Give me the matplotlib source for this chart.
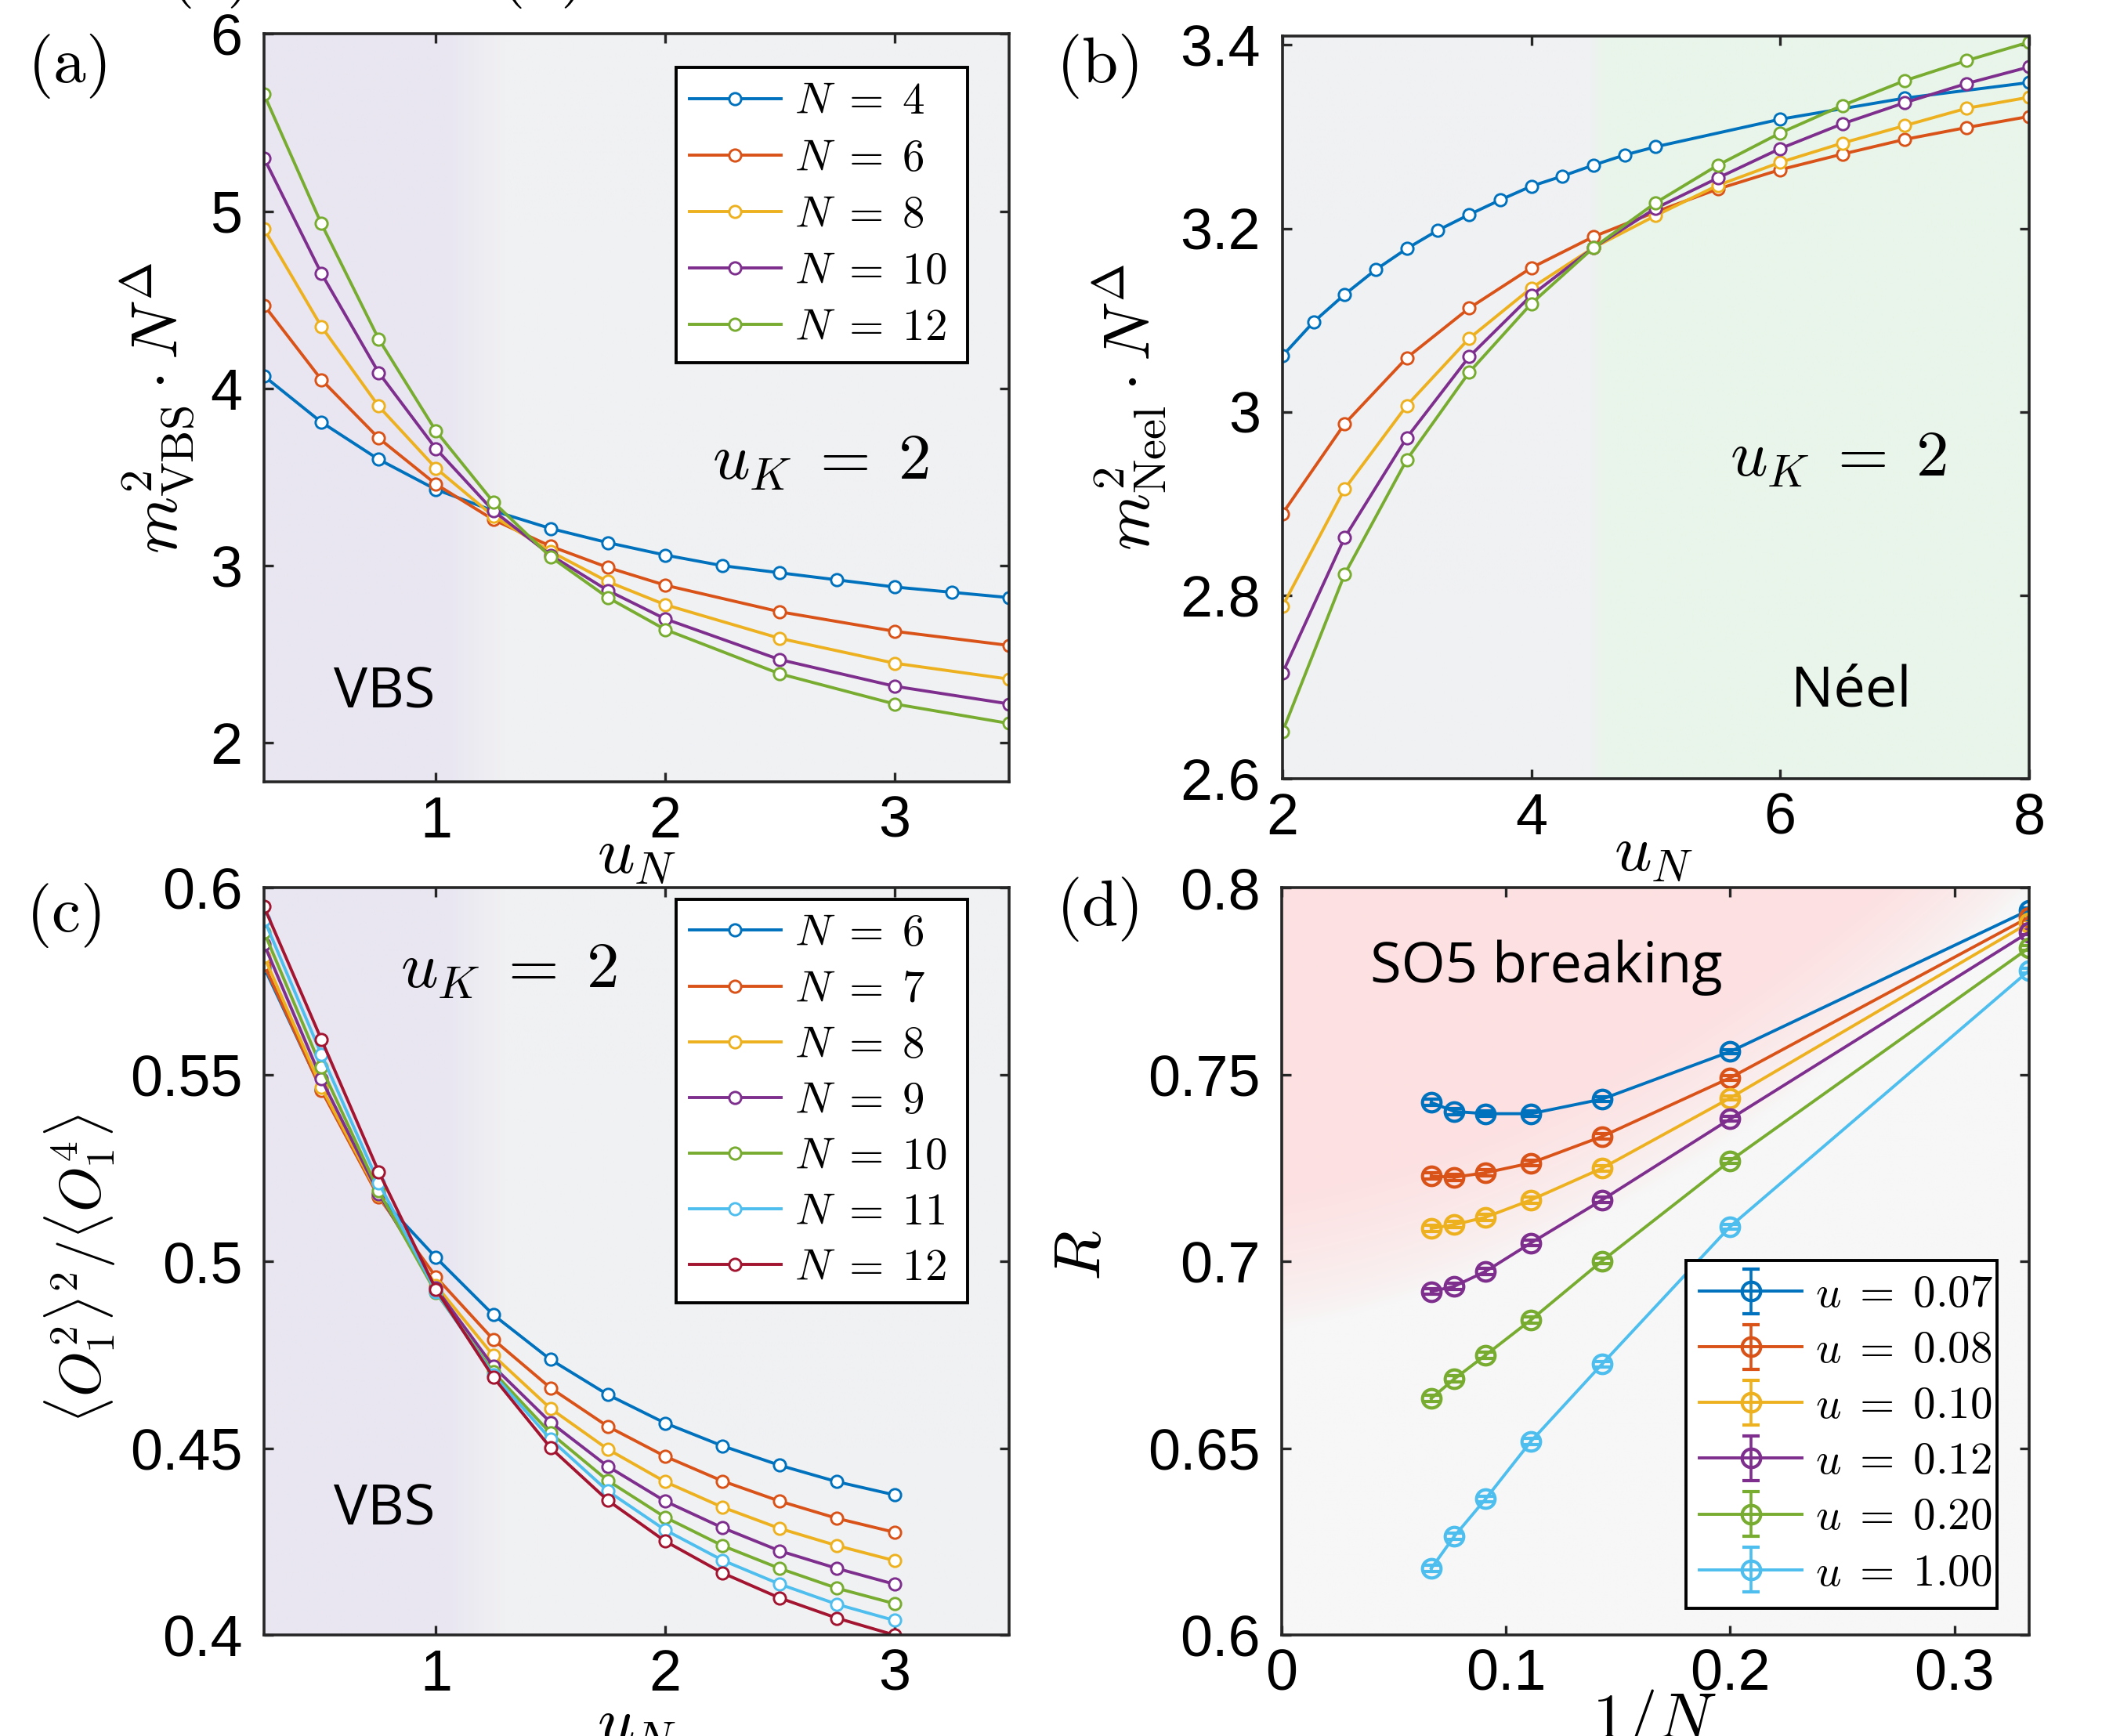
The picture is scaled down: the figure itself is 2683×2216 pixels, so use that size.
import numpy as np
import matplotlib
matplotlib.use("Agg")
import matplotlib.pyplot as plt

plt.rcParams['mathtext.fontset'] = 'cm'
plt.rcParams['font.family'] = ['Liberation Sans', 'DejaVu Sans']

C = ['#0072BD', '#D95319', '#EDB120', '#7E2F8E', '#77AC30', '#4DBEEE', '#A2142F']

# ---------------- panel (a) ----------------
a_x = [0.25, 0.5, 0.75, 1.0, 1.25, 1.5, 1.75, 2.0, 2.25, 2.5, 2.75, 3.0, 3.25, 3.5]
a_x_sparse = [0.25, 0.5, 0.75, 1.0, 1.25, 1.5, 1.75, 2.0, 2.5, 3.0, 3.5]
a_N = [4, 6, 8, 10, 12]
a_N4 = [4.07, 3.81, 3.60, 3.43, 3.31, 3.21, 3.13, 3.06, 3.00, 2.96, 2.92, 2.88, 2.85, 2.82]
a_N6 = [4.47, 4.05, 3.72, 3.46, 3.26, 3.11, 2.99, 2.89, 2.74, 2.63, 2.55]
a_N8 = [4.90, 4.35, 3.90, 3.55, 3.28, 3.08, 2.91, 2.78, 2.59, 2.45, 2.36]
a_N10 = [5.30, 4.65, 4.09, 3.66, 3.31, 3.06, 2.86, 2.70, 2.47, 2.32, 2.22]
a_N12 = [5.66, 4.93, 4.28, 3.76, 3.36, 3.05, 2.82, 2.64, 2.39, 2.22, 2.11]

# ---------------- panel (b) ----------------
b_x4 = [2.0, 2.25, 2.5, 2.75, 3.0, 3.25, 3.5, 3.75, 4.0, 4.25, 4.5, 4.75, 5.0, 6.0, 7.0, 8.0]
b_x = [2.0, 2.5, 3.0, 3.5, 4.0, 4.5, 5.0, 5.5, 6.0, 6.5, 7.0, 7.5, 8.0]
b_N4 = [3.061, 3.098, 3.128, 3.155, 3.178, 3.198, 3.215, 3.231, 3.246, 3.257, 3.269,
        3.280, 3.289, 3.319, 3.342, 3.359]
b_N6 = [2.889, 2.987, 3.059, 3.113, 3.157, 3.191, 3.218, 3.243, 3.264, 3.281, 3.297, 3.310, 3.322]
b_N8 = [2.788, 2.916, 3.007, 3.080, 3.135, 3.179, 3.214, 3.247, 3.272, 3.293, 3.312, 3.331, 3.343]
b_N10 = [2.715, 2.863, 2.972, 3.060, 3.127, 3.179, 3.222, 3.255, 3.287, 3.314, 3.337, 3.358, 3.376]
b_N12 = [2.651, 2.823, 2.948, 3.043, 3.118, 3.179, 3.228, 3.269, 3.304, 3.334, 3.361, 3.383, 3.403]

# ---------------- panel (c) ----------------
c_x = [0.25, 0.5, 0.75, 1.0, 1.25, 1.5, 1.75, 2.0, 2.25, 2.5, 2.75, 3.0]
c_N = [6, 7, 8, 9, 10, 11, 12]
c_N6 = [0.5787, 0.5460, 0.5175, 0.5010, 0.4857, 0.4737, 0.4643, 0.4567, 0.4506, 0.4454, 0.4410, 0.4375]
c_N7 = [0.5794, 0.5458, 0.5172, 0.4958, 0.4791, 0.4661, 0.4558, 0.4478, 0.4412, 0.4358, 0.4312, 0.4275]
c_N8 = [0.5816, 0.5466, 0.5178, 0.4936, 0.4748, 0.4606, 0.4497, 0.4410, 0.4342, 0.4285, 0.4239, 0.4199]
c_N9 = [0.5849, 0.5488, 0.5181, 0.4928, 0.4719, 0.4569, 0.4451, 0.4358, 0.4287, 0.4225, 0.4178, 0.4136]
c_N10 = [0.5881, 0.5519, 0.5188, 0.4916, 0.4704, 0.4540, 0.4413, 0.4315, 0.4239, 0.4178, 0.4125, 0.4084]
c_N11 = [0.5915, 0.5554, 0.5210, 0.4919, 0.4697, 0.4524, 0.4385, 0.4281, 0.4200, 0.4136, 0.4082, 0.4039]
c_N12 = [0.5949, 0.5594, 0.5240, 0.4925, 0.4690, 0.4501, 0.4360, 0.4251, 0.4166, 0.4099, 0.4045, 0.4000]

# ---------------- panel (d) ----------------
d_N = [15, 13, 11, 9, 7, 5, 3]
d_u = ['0.07', '0.08', '0.10', '0.12', '0.20', '1.00']
d_u007 = [0.7425, 0.7401, 0.7395, 0.7395, 0.7434, 0.7561, 0.7940]
d_u008 = [0.7228, 0.7225, 0.7237, 0.7263, 0.7334, 0.7491, 0.7921]
d_u010 = [0.7088, 0.7098, 0.7118, 0.7164, 0.7249, 0.7437, 0.7906]
d_u012 = [0.6919, 0.6933, 0.6973, 0.7049, 0.7164, 0.7381, 0.7881]
d_u020 = [0.6633, 0.6685, 0.6749, 0.6843, 0.7001, 0.7269, 0.7839]
d_u100 = [0.6178, 0.6264, 0.6364, 0.6518, 0.6725, 0.7093, 0.7778]
d_err = [0.0008, 0.0008, 0.0008, 0.0008, 0.0007, 0.0006, 0.0006]

TICK_FS = 53
LAB_FS = 60
LEG_FS = 41
SPINE = '#262626'
LW = 2.8

fig = plt.figure(figsize=(26.83, 22.16), dpi=100)
axA = fig.add_axes([0.1256, 0.5496, 0.3544, 0.4308])
axB = fig.add_axes([0.6101, 0.5514, 0.3552, 0.4280])
axC = fig.add_axes([0.1256, 0.0582, 0.3544, 0.4305])
axD = fig.add_axes([0.6098, 0.0582, 0.3555, 0.4305])


def style(ax):
    for s in ax.spines.values():
        s.set_linewidth(2.6)
        s.set_color(SPINE)
        s.set_zorder(10)
    ax.tick_params(direction='in', length=8.5, width=2.4, top=True, right=True,
                   labelsize=TICK_FS, colors=SPINE, labelcolor='black')
    ax.tick_params(axis='x', pad=12)
    ax.tick_params(axis='y', pad=20)


def hgrad(ax, xlim, ylim, c1, c2, x0, x1):
    xs = np.linspace(xlim[0], xlim[1], 600)
    w = np.clip((xs - x0) / (x1 - x0), 0, 1)
    c1 = np.array(c1) / 255.0
    c2 = np.array(c2) / 255.0
    row = c1[None, :] * (1 - w[:, None]) + c2[None, :] * w[:, None]
    img = np.repeat(row[None, :, :], 2, axis=0)
    ax.imshow(img, extent=[xlim[0], xlim[1], ylim[0], ylim[1]], aspect='auto',
              origin='lower', zorder=0, interpolation='bilinear')


def line(ax, x, y, c, label=None):
    ax.plot(x, y, '-o', color=c, lw=LW, ms=11, mfc='white', mec=c, mew=2.1,
            label=label, zorder=3)


def nlab(n):
    return r'$N\;=\;%d$' % n


LAV = (233, 230, 241)
GRY = (240, 241, 243)
GRN = (233, 245, 234)

# ---- (a)
style(axA)
xl, yl = (0.25, 3.5), (1.78, 6.0)
hgrad(axA, xl, yl, LAV, GRY, 1.05, 1.3)
line(axA, a_x, a_N4, C[0], nlab(4))
line(axA, a_x_sparse, a_N6, C[1], nlab(6))
line(axA, a_x_sparse, a_N8, C[2], nlab(8))
line(axA, a_x_sparse, a_N10, C[3], nlab(10))
line(axA, a_x_sparse, a_N12, C[4], nlab(12))
axA.set_xlim(xl)
axA.set_ylim(yl)
axA.set_xticks([1, 2, 3])
axA.set_yticks([2, 3, 4, 5, 6])
axA.set_xlabel(r'$u_N$', fontsize=LAB_FS)
axA.xaxis.set_label_coords(0.5, -0.058)
axA.set_ylabel(r'$m^2_{\mathrm{VBS}}\cdot N^{\Delta}$', fontsize=LAB_FS)
axA.yaxis.set_label_coords(-0.09, 0.5)
axA.text(0.747, 0.428, r'$u_K\;=\;2$', transform=axA.transAxes, fontsize=LAB_FS,
         ha='center', va='center')
axA.text(0.162, 0.119, 'VBS', transform=axA.transAxes, fontsize=52,
         family=['Open Sans', 'DejaVu Sans'], ha='center', va='center')
legA = axA.legend(loc='upper left', bbox_to_anchor=(0.553, 0.548, 0.391, 0.407),
                  mode='expand', fontsize=LEG_FS, frameon=True, fancybox=False,
                  edgecolor='black', framealpha=1, borderaxespad=0,
                  handlelength=2.05, handletextpad=0.3, labelspacing=0.32,
                  borderpad=0.3)
legA.get_frame().set_linewidth(2.8)
legA.set_zorder(12)

# ---- (b)
style(axB)
xl, yl = (2, 8), (2.6, 3.41)
hgrad(axB, xl, yl, GRY, GRN, 4.45, 4.6)
line(axB, b_x4, b_N4, C[0])
line(axB, b_x, b_N6, C[1])
line(axB, b_x, b_N8, C[2])
line(axB, b_x, b_N10, C[3])
line(axB, b_x, b_N12, C[4])
axB.set_xlim(xl)
axB.set_ylim(yl)
axB.set_xticks([2, 4, 6, 8])
axB.set_yticks([2.6, 2.8, 3.0, 3.2, 3.4])
axB.set_yticklabels(['2.6', '2.8', '3', '3.2', '3.4'])
axB.set_xlabel(r'$u_N$', fontsize=LAB_FS)
axB.xaxis.set_label_coords(0.497, -0.06)
axB.set_ylabel(r'$m^2_{\mathrm{Neel}}\cdot N^{\Delta}$', fontsize=LAB_FS)
axB.yaxis.set_label_coords(-0.152, 0.5)
axB.text(0.744, 0.43, r'$u_K\;=\;2$', transform=axB.transAxes, fontsize=LAB_FS,
         ha='center', va='center')
axB.text(0.762, 0.117, 'Néel', transform=axB.transAxes, fontsize=52,
         family=['Open Sans', 'DejaVu Sans'], ha='center', va='center')

# ---- (c)
style(axC)
xl, yl = (0.25, 3.5), (0.4, 0.6)
hgrad(axC, xl, yl, LAV, GRY, 1.05, 1.3)
for vals, c, n in zip([c_N6, c_N7, c_N8, c_N9, c_N10, c_N11, c_N12], C, c_N):
    line(axC, c_x, vals, c, nlab(n))
axC.set_xlim(xl)
axC.set_ylim(yl)
axC.set_xticks([1, 2, 3])
axC.set_yticks([0.4, 0.45, 0.5, 0.55, 0.6])
axC.set_yticklabels(['0.4', '0.45', '0.5', '0.55', '0.6'])
axC.set_xlabel(r'$u_N$', fontsize=LAB_FS)
axC.xaxis.set_label_coords(0.5, -0.08)
axC.set_ylabel(r'$\langle O_1^2\rangle^2/\langle O_1^4\rangle$', fontsize=53)
axC.yaxis.set_label_coords(-0.197, 0.49)
axC.text(0.328, 0.889, r'$u_K\;=\;2$', transform=axC.transAxes, fontsize=LAB_FS,
         ha='center', va='center')
axC.text(0.162, 0.167, 'VBS', transform=axC.transAxes, fontsize=52,
         family=['Open Sans', 'DejaVu Sans'], ha='center', va='center')
legC = axC.legend(loc='upper left', bbox_to_anchor=(0.553, 0.421, 0.391, 0.563),
                  mode='expand', fontsize=LEG_FS, frameon=True, fancybox=False,
                  edgecolor='black', framealpha=1, borderaxespad=0,
                  handlelength=2.05, handletextpad=0.3, labelspacing=0.3,
                  borderpad=0.3)
legC.get_frame().set_linewidth(2.8)
legC.set_zorder(12)

# ---- (d)
style(axD)
xl, yl = (0, 1.0 / 3.0), (0.6, 0.8)
xs = np.linspace(xl[0], xl[1], 400)
ys = np.linspace(yl[0], yl[1], 400)
X, Y = np.meshgrid(xs, ys)
yb = 0.682 + 0.105 * X + 0.746 * X ** 2
w = np.clip((Y - yb) / 0.035, 0, 1) ** 0.7
pink = np.array([253, 225, 226]) / 255.0
gry = np.array([247, 247, 247]) / 255.0
img = gry[None, None, :] * (1 - w[..., None]) + pink[None, None, :] * w[..., None]
axD.imshow(img, extent=[xl[0], xl[1], yl[0], yl[1]], aspect='auto', origin='lower',
           zorder=0, interpolation='bilinear')
invN = [1.0 / n for n in d_N]
for vals, c, u in zip([d_u007, d_u008, d_u010, d_u012, d_u020, d_u100], C, d_u):
    axD.errorbar(invN, vals, yerr=d_err, fmt='-o', color=c, lw=LW, ms=17,
                 mfc='none', mec=c, mew=3.0, elinewidth=2.6, capsize=8, capthick=2.6,
                 label=r'$u\;=\;%s$' % u, zorder=3)
axD.set_xlim(xl)
axD.set_ylim(yl)
axD.set_xticks([0, 0.1, 0.2, 0.3])
axD.set_xticklabels(['0', '0.1', '0.2', '0.3'])
axD.set_yticks([0.6, 0.65, 0.7, 0.75, 0.8])
axD.set_yticklabels(['0.6', '0.65', '0.7', '0.75', '0.8'])
axD.set_xlabel(r'$1/N$', fontsize=LAB_FS)
axD.xaxis.set_label_coords(0.498, -0.07)
axD.set_ylabel(r'$R$', fontsize=LAB_FS)
axD.yaxis.set_label_coords(-0.225, 0.508)
axD.text(0.354, 0.893, 'SO5 breaking', transform=axD.transAxes, fontsize=52,
         family=['Open Sans', 'DejaVu Sans'], ha='center', va='center')
legD = axD.legend(loc='upper left', bbox_to_anchor=(0.541, 0.017, 0.416, 0.484),
                  mode='expand', fontsize=LEG_FS, frameon=True, fancybox=False,
                  edgecolor='black', framealpha=1, borderaxespad=0,
                  handlelength=2.3, handletextpad=0.3, labelspacing=0.3,
                  borderpad=0.3)
legD.get_frame().set_linewidth(2.8)
legD.set_zorder(12)

# panel labels
for xpos, ypos, lab in [(85, 84, 'a'), (1400, 84, 'b'), (81, 1168, 'c'), (1400, 1160, 'd')]:
    fig.text(xpos / 2683, 1 - ypos / 2216, r'$\mathrm{(%s)}$' % lab, fontsize=LAB_FS,
             ha='center', va='center')

# cropped fragments of labels above the figure
fig.text(265 / 2683, 1 + 10 / 2216, r'$\mathrm{(a)}$', fontsize=LAB_FS, ha='center', va='baseline')
fig.text(689 / 2683, 1 + 10 / 2216, r'$\mathrm{(b)}$', fontsize=LAB_FS, ha='center', va='baseline')

fig.savefig('out.png', dpi=100)
